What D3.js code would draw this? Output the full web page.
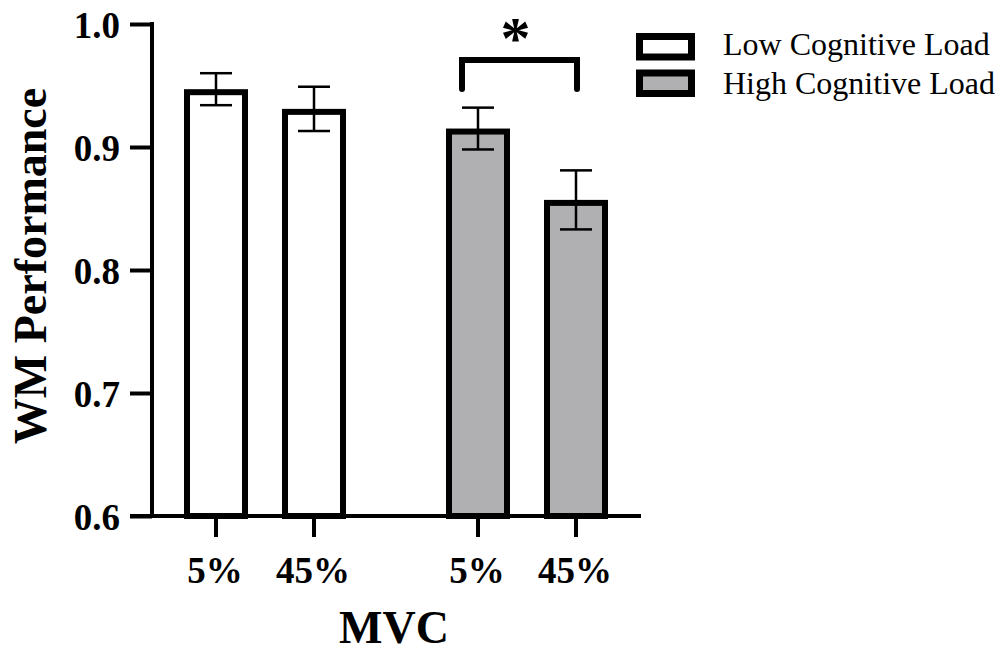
<!DOCTYPE html>
<html>
<head>
<meta charset="utf-8">
<script src="https://cdn.jsdelivr.net/npm/d3@7"></script>
<style>
  html, body { margin: 0; padding: 0; background: #fff; }
  svg { display: block; }
  text { font-family: "Liberation Serif", "Times New Roman", serif; fill: #000; }
</style>
</head>
<body>
<svg id="chart" width="1005" height="652"></svg>
<script>
// ---- data ----
const groups = ["Low Cognitive Load", "High Cognitive Load"];
const mvcLevels = ["5%", "45%"];
const lowMeans = [0.947, 0.931];
const lowErrors = [0.013, 0.018];
const highMeans = [0.915, 0.857];
const highErrors = [0.017, 0.024];
const groupFills = ["#ffffff", "#b0b0b3"];
const yTicks = [0.6, 0.7, 0.8, 0.9, 1.0];
const yTitle = "WM Performance";
const xTitle = "MVC";
const sigLabel = "*";

const svg = d3.select("#chart");

const y = d3.scaleLinear().domain([0.6, 1.0]).range([516, 24]);
const xGroup = d3.scalePoint().domain(groups).range([265, 527]);
const xInner = d3.scalePoint().domain(mvcLevels).range([-49, 49]);

const data = [];
groups.forEach((g, gi) => {
  const means = gi === 0 ? lowMeans : highMeans;
  const errs = gi === 0 ? lowErrors : highErrors;
  mvcLevels.forEach((m, mi) => {
    data.push({ group: g, gi, mvc: m, mean: means[mi], err: errs[mi] });
  });
});
const cx = d => xGroup(d.group) + xInner(d.mvc);

const barW = 64, sw = 6;

// bars
svg.append("g").selectAll("rect").data(data).join("rect")
  .attr("x", d => cx(d) - barW / 2 + sw / 2)
  .attr("width", barW - sw)
  .attr("y", d => y(d.mean) + sw / 2)
  .attr("height", d => y(0.6) - y(d.mean) - sw / 2)
  .attr("fill", d => groupFills[d.gi])
  .attr("stroke", "#000")
  .attr("stroke-width", sw);

// error bars
const eb = svg.append("g").attr("stroke", "#000").attr("stroke-width", 2.5);
data.forEach(d => {
  const x0 = cx(d);
  eb.append("line").attr("x1", x0).attr("x2", x0)
    .attr("y1", y(d.mean + d.err)).attr("y2", y(d.mean - d.err));
  [d.mean + d.err, d.mean - d.err].forEach(v => {
    eb.append("line").attr("x1", x0 - 16).attr("x2", x0 + 16)
      .attr("y1", y(v)).attr("y2", y(v));
  });
});

// y axis
const yAxis = svg.append("g").attr("transform", "translate(152,0)")
  .call(d3.axisLeft(y).tickValues(yTicks).tickFormat(d3.format(".1f")).tickSize(22).tickPadding(10));
yAxis.select(".domain").remove();
yAxis.selectAll(".tick line").attr("stroke", "#000").attr("stroke-width", 4);
yAxis.selectAll(".tick text")
  .attr("font-size", 37).attr("font-weight", "bold")
  .attr("font-family", "Liberation Serif, serif")
  .attr("dy", "0.36em");
svg.append("line").attr("x1", 152).attr("x2", 152)
  .attr("y1", y(1.0) - 2).attr("y2", y(0.6) + 2)
  .attr("stroke", "#000").attr("stroke-width", 4);

// x axis
svg.append("line").attr("x1", 130).attr("x2", 641)
  .attr("y1", y(0.6)).attr("y2", y(0.6))
  .attr("stroke", "#000").attr("stroke-width", 4);
const xt = svg.append("g");
data.forEach(d => {
  xt.append("line").attr("x1", cx(d)).attr("x2", cx(d))
    .attr("y1", y(0.6)).attr("y2", y(0.6) + 21)
    .attr("stroke", "#000").attr("stroke-width", 4);
  xt.append("text").attr("x", cx(d) - 1).attr("y", 583)
    .attr("text-anchor", "middle").attr("font-size", 37).attr("font-weight", "bold")
    .text(d.mvc);
});

// axis titles
svg.append("text").attr("x", 394).attr("y", 643)
  .attr("text-anchor", "middle").attr("font-size", 46).attr("font-weight", "bold")
  .text(xTitle);
svg.append("text").attr("transform", "translate(46,266) rotate(-90)")
  .attr("text-anchor", "middle").attr("font-size", 46).attr("font-weight", "bold")
  .text(yTitle);

// significance bracket
const high = data.filter(d => d.gi === 1);
const bx1 = cx(high[0]) - 16, bx2 = cx(high[1]) + 1;
svg.append("path")
  .attr("d", `M${bx1},89 V60 H${bx2} V89`)
  .attr("fill", "none").attr("stroke", "#000").attr("stroke-width", 6)
  .attr("stroke-linecap", "round").attr("stroke-linejoin", "miter");
svg.append("text").attr("x", (bx1 + bx2) / 2 - 4).attr("y", 58)
  .attr("text-anchor", "middle").attr("font-size", 60).attr("font-weight", "bold")
  .attr("font-family", "DejaVu Sans, sans-serif")
  .text(sigLabel);

// legend
const lg = svg.append("g");
groups.forEach((g, i) => {
  const ty = 33 + i * 36.5;
  lg.append("rect").attr("x", 639.5).attr("y", ty + 3.5).attr("width", 52).attr("height", 20.5)
    .attr("fill", groupFills[i]).attr("stroke", "#000").attr("stroke-width", 7);
  lg.append("text").attr("x", 723).attr("y", 55 + i * 39)
    .attr("font-size", 32).text(g);
});
</script>
</body>
</html>
